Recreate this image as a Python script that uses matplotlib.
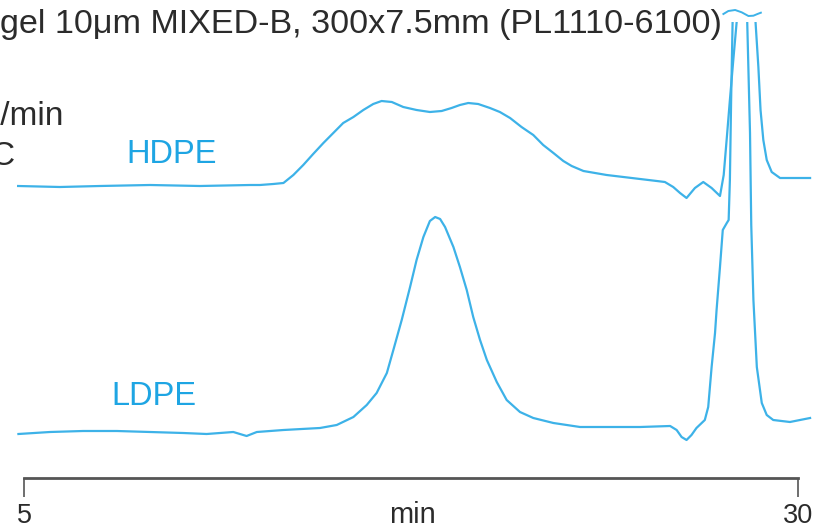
import matplotlib.pyplot as plt

# retention time (min) and detector signal (arbitrary units)
hdpe_time = [4.81, 6.16, 7.45, 9.07, 10.68, 12.30, 12.62, 13.05, 13.38, 13.70,
             14.02, 14.34, 14.67, 14.99, 15.31, 15.64, 15.96, 16.28, 16.55, 16.88,
             17.25, 17.68, 18.11, 18.49, 18.81, 19.08, 19.35, 19.67, 20.05, 20.37,
             20.70, 21.07, 21.45, 21.77, 22.10, 22.42, 22.69, 23.07, 23.82, 24.36,
             24.90, 25.44, 25.70, 25.97, 26.19, 26.40, 26.67, 26.94, 27.21, 27.48,
             27.60, 27.70, 27.80, 27.91, 28.03, 28.33, 28.62, 28.72, 28.79, 28.88,
             28.99, 29.15, 29.42, 30.39]
hdpe_signal = [292, 291, 292, 293, 292, 293, 293, 294, 295, 303,
               313, 324, 335, 345, 355, 361, 368, 374, 377, 376,
               371, 368, 366, 367, 370, 373, 375, 374, 370, 366,
               360, 351, 343, 333, 325, 317, 312, 307, 303, 301,
               299, 297, 296, 291, 285, 280, 290, 296, 290, 282,
               303, 340, 378, 418, 460, 520, 460, 411, 368, 338,
               318, 306, 300, 300]

ldpe_time = [4.82, 5.84, 6.91, 8.00, 9.07, 10.14, 10.90, 11.76, 12.19, 12.52,
             13.38, 14.56, 15.10, 15.64, 16.07, 16.39, 16.72, 16.93, 17.20, 17.47,
             17.68, 17.90, 18.11, 18.28, 18.44, 18.60, 18.87, 19.08, 19.30, 19.51,
             19.73, 19.95, 20.27, 20.59, 21.02, 21.45, 22.10, 22.96, 24.90, 25.87,
             26.08, 26.24, 26.40, 26.56, 26.72, 26.99, 27.10, 27.21, 27.32, 27.37,
             27.48, 27.57, 27.70, 27.76, 27.80, 27.84, 27.89, 28.12, 28.36, 28.45,
             28.49, 28.56, 28.67, 28.83, 28.99, 29.20, 29.74, 30.39]
ldpe_signal = [44, 46, 47, 47, 46, 45, 44, 46, 42, 46,
               48, 50, 53, 61, 73, 85, 105, 128, 158, 191,
               218, 241, 257, 261, 259, 251, 231, 211, 188, 161,
               138, 118, 96, 78, 66, 60, 55, 51, 51, 52,
               48, 41, 38, 43, 50, 58, 71, 111, 145, 168,
               211, 248, 255, 258, 298, 378, 460, 520, 456, 345,
               253, 178, 111, 75, 63, 58, 56, 60]

# off-scale mark above the clipped peaks
break_time = [27.59, 27.75, 27.97, 28.18, 28.40, 28.56, 28.69, 28.80]
break_signal = [464, 467, 468, 465.7, 462, 462.3, 464, 465.3]

title = "gel 10\u03bcm MIXED-B, 300x7.5mm (PL1110-6100)"
line_color = "#3db2e8"
text_blue = "#1ea5e3"
dark = "#2b2b2b"

W, H = 813, 528
fig = plt.figure(figsize=(W / 100, H / 100), dpi=100)
x0, x1 = 4.3, 30.5
px_per_min = 774 / 25
left_px = 24 - (5 - x0) * px_per_min
ax = fig.add_axes([left_px / W, 50 / H, (x1 - x0) * px_per_min / W, 456 / H])
ax.set_xlim(x0, x1)
ax.set_ylim(0, 456)

ax.plot(hdpe_time, hdpe_signal, color=line_color, lw=1.6,
        solid_joinstyle="round")
ax.plot(ldpe_time, ldpe_signal, color=line_color, lw=1.6,
        solid_joinstyle="round")
ax.plot(break_time, break_signal, color=line_color, lw=1.4, clip_on=False)

for side in ["left", "right", "top"]:
    ax.spines[side].set_visible(False)
ax.spines["bottom"].set_bounds(5, 30)
ax.spines["bottom"].set_linewidth(2)
ax.spines["bottom"].set_color("#555555")
ax.set_yticks([])
ax.set_xticks([5, 30])
ax.set_xticklabels(["5", "30"], fontsize=19.5, color=dark,
                   family="Liberation Sans")
ax.tick_params(axis="x", direction="out", length=13.5, width=1.2,
               color="#555555", pad=4.5)
ax.text(17.55, -0.098, "min", transform=ax.get_xaxis_transform(),
        ha="center", va="baseline", fontsize=21, color=dark,
        family="Liberation Sans")


def ftext(x, y, s, **kw):
    fig.text(x / W, 1 - y / H, s, va="baseline", family="Liberation Sans", **kw)


ftext(0, 33, title, fontsize=24.6, color=dark, ha="left")
ftext(64, 125, "ml/min", fontsize=24, color=dark, ha="right")
ftext(16, 165, "160\u00b0C", fontsize=24, color=dark, ha="right")
ftext(126, 163, "HDPE", fontsize=23.5, color=text_blue, ha="left")
ftext(111, 405, "LDPE", fontsize=23.5, color=text_blue, ha="left")

fig.savefig("out.png", dpi=100)
